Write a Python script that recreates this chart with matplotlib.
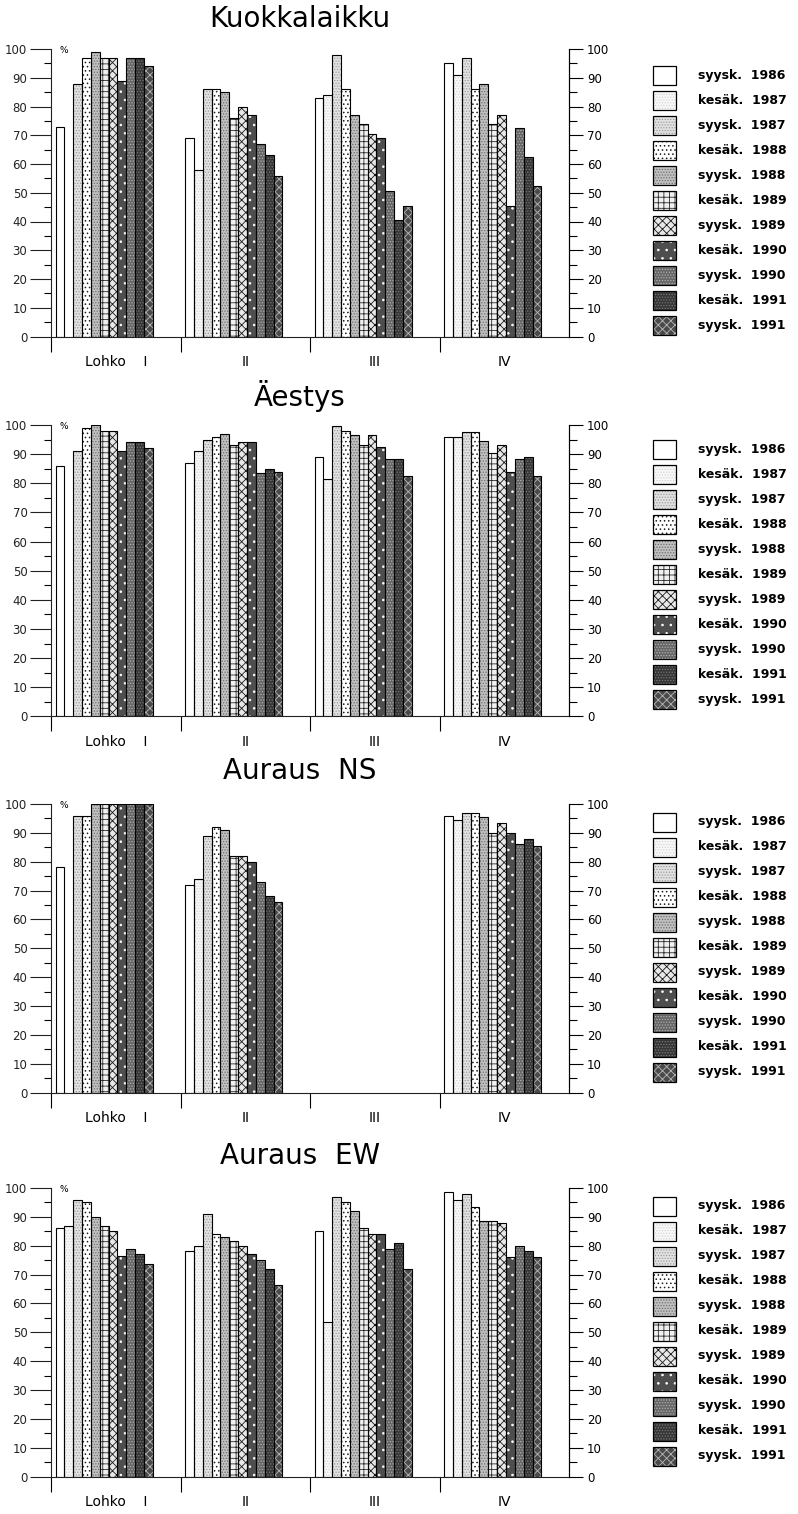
import numpy as np
import matplotlib
matplotlib.use("Agg")
import matplotlib.pyplot as plt
from matplotlib.patches import Rectangle

nan = np.nan

# ---------------- data ----------------
panel_titles = ["Kuokkalaikku", "Äestys", "Auraus  NS", "Auraus  EW"]
group_labels = ["Lohko    I", "II", "III", "IV"]
season_labels = ["syysk.  1986", "kesäk.  1987", "syysk.  1987", "kesäk.  1988",
                 "syysk.  1988", "kesäk.  1989", "syysk.  1989", "kesäk.  1990",
                 "syysk.  1990", "kesäk.  1991", "syysk.  1991"]

# rows = Lohko I..IV, columns = seasons (in legend order)
kuokkalaikku = [
    [73, nan, 88, 97, 99, 97, 97, 89, 97, 97, 94],
    [69, 58, 86, 86, 85, 76, 80, 77, 67, 63, 56],
    [83, 84, 98, 86, 77, 74, 70.5, 69, 50.5, 40.5, 45.5],
    [95, 91, 97, 86, 88, 74, 77, 45.5, 72.5, 62.5, 52.5],
]
aestys = [
    [86, nan, 91, 99, 100, 98, 98, 91, 94, 94, 92],
    [87, 91, 95, 96, 97, 93, 94, 94, 83.5, 85, 84],
    [89, 81.5, 99.5, 98, 96.5, 93, 96.5, 92.5, 88.5, 88.5, 82.5],
    [96, 96, 97.5, 97.5, 94.5, 90.5, 93, 84, 88.5, 89, 82.5],
]
auraus_ns = [
    [78, nan, 96, 96, 100, 100, 100, 100, 100, 100, 100],
    [72, 74, 89, 92, 91, 82, 82, 80, 73, 68, 66],
    [nan, nan, nan, nan, nan, nan, nan, nan, nan, nan, nan],
    [96, 94.5, 97, 97, 95.5, 90, 93.5, 90, 86, 88, 85.5],
]
auraus_ew = [
    [86, 87, 96, 95, 90, 87, 85, 76.5, 79, 77, 73.5],
    [78, 80, 91, 84, 83, 81.5, 80, 77, 75, 72, 66.5],
    [85, 53.5, 97, 95, 92, 86, 84, 84, 79, 81, 72],
    [98.5, 96, 98, 93.5, 88.5, 88.5, 88, 76, 80, 78, 76],
]
panel_data = [kuokkalaikku, aestys, auraus_ns, auraus_ew]

# ---------------- styles ----------------
# (facecolor, hatch, hatchcolor) for each season
styles = [
    ("white", None, "black"),
    ("#f8f8f8", "......", "#d4d4d4"),
    ("#e2e2e2", "......", "#9a9a9a"),
    ("white", "....", "#1e1e1e"),
    ("#c0c0c0", "......", "#6e6e6e"),
    ("#f0f0f0", "+++", "#2a2a2a"),
    ("#e8e8e8", "xxxx", "#1a1a1a"),
    ("#4e4e4e", "..", "#ffffff"),
    ("#666666", "......", "#b0b0b0"),
    ("#363636", "......", "#787878"),
    ("#4a4a4a", "xxxx", "#b8b8b8"),
]

plt.rcParams["hatch.linewidth"] = 0.6
plt.rcParams["font.family"] = ["DejaVu Sans"]

W, H = 798, 1514
fig = plt.figure(figsize=(W / 100, H / 100), dpi=100)


def fx(px):
    return px / W


def fy(py):
    return 1 - py / H


# pixel layout of each panel: (y of 100, y of 0, title y, first legend row y)
layout = [
    (49, 336.5, 19, 75),
    (425, 716.5, 396, 449),
    (804, 1092.5, 771, 822),
    (1188, 1476.5, 1156, 1206),
]
x_left, x_right = 51, 569
group_px = (x_right - x_left) / 4.0
bar_off = 4.5 / group_px
bar_w = 8.85 / group_px

# overlay axes in pixel coordinates for titles/legends
lax = fig.add_axes([0, 0, 1, 1])
lax.set_xlim(0, W)
lax.set_ylim(H, 0)
lax.axis("off")

for p, (data, title, (y100, y0, ty, ly)) in enumerate(zip(panel_data, panel_titles, layout)):
    ax = fig.add_axes([fx(x_left), fy(y0), (x_right - x_left) / W, (y0 - y100) / H])
    ax.set_xlim(0, 4)
    ax.set_ylim(0, 100)
    arr = np.array(data, dtype=float)
    groups = np.arange(4)
    for i, (fc, hatch, hc) in enumerate(styles):
        vals = arr[:, i]
        m = ~np.isnan(vals)
        xs = groups[m] + bar_off + i * bar_w
        ax.bar(xs, vals[m], width=bar_w, align="edge", facecolor=fc,
               hatch=hatch, edgecolor=hc, linewidth=0, zorder=2)
        ax.bar(xs, vals[m], width=bar_w, align="edge", facecolor="none",
               edgecolor="black", linewidth=0.8, zorder=3)

    ax.spines["top"].set_visible(False)
    for s in ["left", "right", "bottom"]:
        ax.spines[s].set_linewidth(0.8)
        ax.spines[s].set_color("#222222")

    ax.set_yticks(np.arange(0, 101, 10))
    ax.set_yticks(np.arange(5, 100, 10), minor=True)
    ax.tick_params(axis="y", which="major", direction="out", length=15, width=0.8,
                   labelsize=8.5, pad=2, left=True, right=False, colors="#222222")
    ax.tick_params(axis="y", which="minor", direction="out", length=5, width=0.8,
                   left=True, right=False)

    ax.set_xticks([0, 1, 2, 3])
    ax.set_xticklabels([])
    ax.set_xticks([0.5, 1.5, 2.5, 3.5], minor=True)
    ax.set_xticklabels(group_labels, minor=True)
    ax.tick_params(axis="x", which="major", direction="out", length=11, width=0.8)
    ax.tick_params(axis="x", which="minor", length=0, pad=13, labelsize=10)

    ax.text((60 - x_left) / (x_right - x_left), 99.5, "%", transform=ax.get_yaxis_transform(),
            fontsize=6.5, va="center", ha="left")

    axr = ax.twinx()
    axr.set_ylim(0, 100)
    axr.spines["top"].set_visible(False)
    axr.spines["left"].set_visible(False)
    axr.spines["bottom"].set_visible(False)
    axr.spines["right"].set_linewidth(0.8)
    axr.set_yticks(np.arange(0, 101, 10))
    axr.set_yticks(np.arange(5, 100, 10), minor=True)
    axr.tick_params(axis="y", which="major", direction="out", length=10, width=0.8,
                    labelsize=8.5, pad=3)
    axr.tick_params(axis="y", which="minor", direction="out", length=6, width=0.8)

    lax.text(300, ty, title, ha="center", va="center", fontsize=20)

    for i, ((fc, hatch, hc), lab) in enumerate(zip(styles, season_labels)):
        yc = ly + i * 25.0
        lax.add_patch(Rectangle((653, yc - 9.5), 23, 19, facecolor=fc, hatch=hatch,
                                edgecolor=hc, linewidth=0))
        lax.add_patch(Rectangle((653, yc - 9.5), 23, 19, facecolor="none",
                                edgecolor="black", linewidth=0.9))
        lax.text(698, yc, lab, ha="left", va="center", fontsize=9, fontweight="bold")

fig.savefig("out.png", dpi=100)
